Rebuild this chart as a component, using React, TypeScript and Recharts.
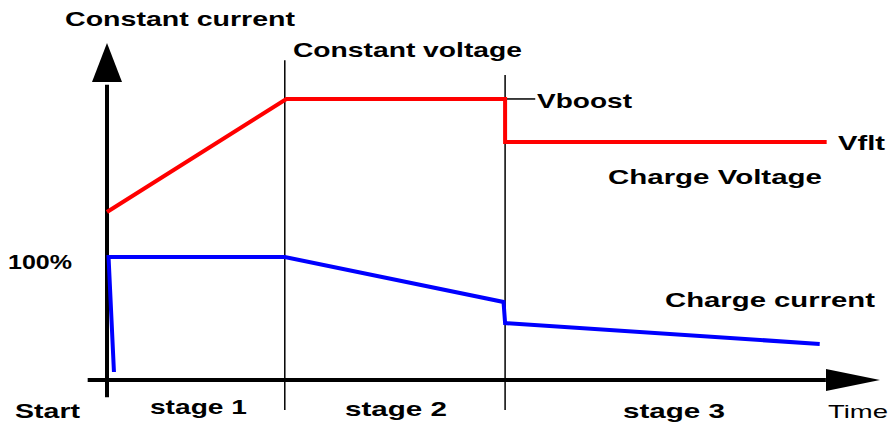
import React from 'react'
import {LineChart, Line, XAxis, YAxis, ReferenceLine, ReferenceDot} from 'recharts'

// time in % of the axis length, value in % of full charge current
const voltage = [
    {t: 0, v: 136.6},
    {t: 23.2, v: 228.5},
    {t: 51.5, v: 228.5},
    {t: 51.5, v: 193.5},
    {t: 93.1, v: 193.5},
]
const current = [
    {t: 0.9, v: 6.5},
    {t: 0.2, v: 100},
    {t: 23.0, v: 100},
    {t: 51.3, v: 63.4},
    {t: 51.5, v: 46.3},
    {t: 92.2, v: 29.3},
]
const stageEdges = [23.0, 51.5]
const stageTops = [260, 248]

const labelTexts = ['Constant current', 'Constant voltage', 'Vboost', 'Vflt', 'Charge Voltage', '100%', 'Charge current', 'Start', 'stage 1', 'stage 2', 'stage 3', 'Time']
const labelT = [-5.43, 24.06, 55.63, 94.57, 64.81, -12.81, 72.19, -11.9, 5.56, 30.79, 66.75, 93.27]
const labelV = [287.8, 262.6, 221.1, 187.0, 159.3, 90.2, 59.3, -30.9, -27.6, -29.3, -30.9, -30.9]
const labelW = [230, 229, 95, 47, 214, 64, 210, 65, 97, 102, 102, 60]

const App = () => {
    return (
        <div style={{position: 'absolute', left: 0, top: 0, background: '#fff'}}>
            <LineChart width={891} height={426} margin={{top: 43, right: 11, bottom: 46, left: 107}}>
                <XAxis type='number' dataKey='t' domain={[0, 100]} hide/>
                <YAxis type='number' dataKey='v' domain={[0, 274]} hide/>

                {stageEdges.map((x, i) => (
                    <ReferenceLine
                        key={'s' + i}
                        segment={[{x: x, y: -24.4}, {x: x, y: stageTops[i]}]}
                        stroke='#000'
                        strokeWidth={1.5}
                        ifOverflow='visible'
                    />
                ))}
                <ReferenceLine
                    segment={[{x: 51.5, y: 228.5}, {x: 55.4, y: 228.5}]}
                    stroke='#000'
                    strokeWidth={1.5}
                    ifOverflow='visible'
                />

                {/* axes */}
                <ReferenceLine segment={[{x: 0, y: -14}, {x: 0, y: 240}]} stroke='#000' strokeWidth={4} ifOverflow='visible'/>
                <ReferenceLine segment={[{x: -2.5, y: 0}, {x: 93, y: 0}]} stroke='#000' strokeWidth={4} ifOverflow='visible'/>
                <ReferenceDot
                    x={0} y={274} ifOverflow='visible'
                    shape={(p: any) => (
                        <polygon points={`${p.cx},${p.cy} ${p.cx - 15},${p.cy + 39} ${p.cx + 15},${p.cy + 39}`} fill='#000'/>
                    )}
                />
                <ReferenceDot
                    x={100} y={0} ifOverflow='visible'
                    shape={(p: any) => (
                        <polygon points={`${p.cx},${p.cy} ${p.cx - 54},${p.cy - 11} ${p.cx - 54},${p.cy + 11}`} fill='#000'/>
                    )}
                />

                <Line data={voltage} dataKey='v' type='linear' stroke='#ff0000' strokeWidth={4} dot={false} isAnimationActive={false}/>
                <Line data={current} dataKey='v' type='linear' stroke='#0000ff' strokeWidth={4} dot={false} isAnimationActive={false}/>

                {labelTexts.map((txt, i) => (
                    <ReferenceDot
                        key={'l' + i}
                        x={labelT[i]} y={labelV[i]} ifOverflow='visible'
                        shape={(p: any) => (
                            <text
                                x={p.cx} y={p.cy}
                                textLength={labelW[i]}
                                lengthAdjust='spacingAndGlyphs'
                                fontFamily='Liberation Sans, Arial, sans-serif'
                                fontWeight={txt === 'Time' ? 'normal' : 'bold'}
                                fontSize={txt === 'Time' ? 19 : 21}
                                fill='#000'
                            >{txt}</text>
                        )}
                    />
                ))}
            </LineChart>
        </div>
    )
}
export default App
